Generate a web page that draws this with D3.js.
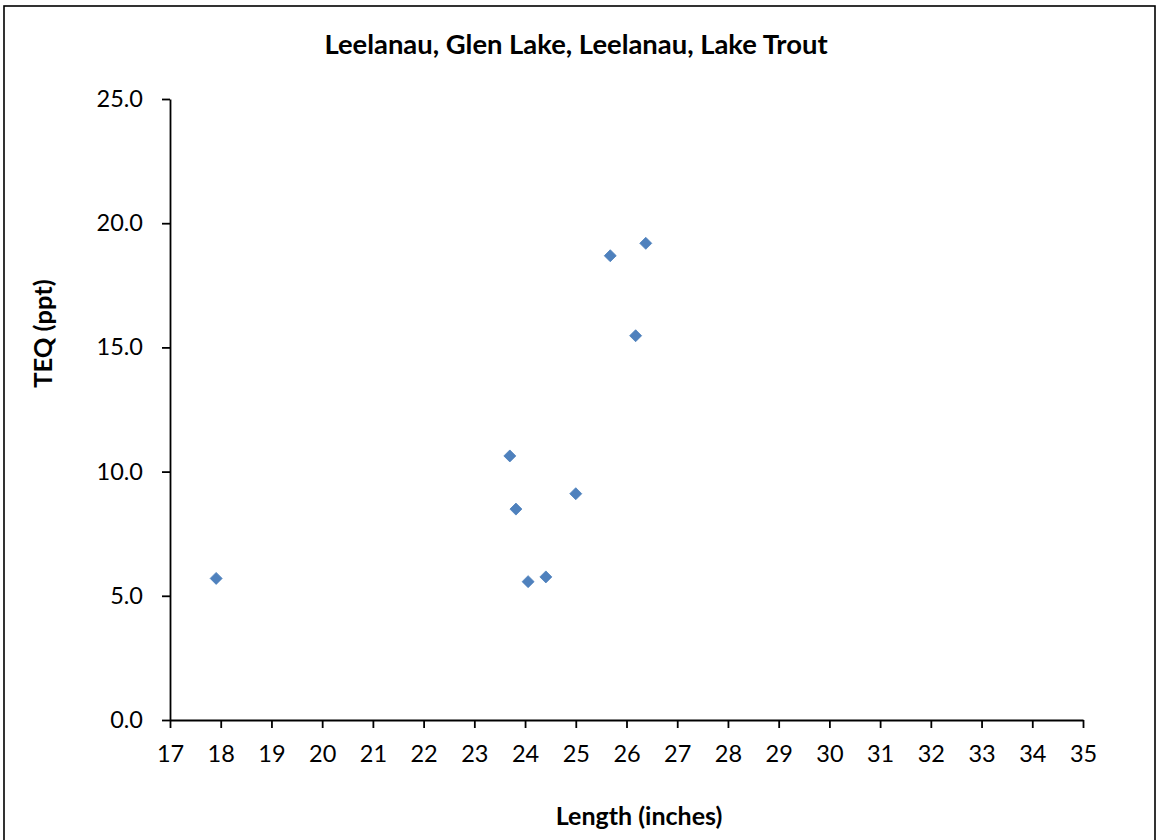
<!DOCTYPE html>
<html><head><meta charset="utf-8">
<script src="https://cdn.jsdelivr.net/npm/d3@7"></script>
<style>body{margin:0;background:#fff}svg{display:block}text{font-family:Lato,"Open Sans",sans-serif;fill:#000}</style>
</head><body><svg id="c" width="1156" height="840"></svg>
<script>
const title = "Leelanau, Glen Lake, Leelanau, Lake Trout";
const xLabel = "Length (inches)";
const yLabel = "TEQ (ppt)";
const lengths = [17.91, 23.70, 23.82, 24.06, 24.41, 25.00, 25.68, 26.18, 26.38];
const teq = [5.70, 10.63, 8.49, 5.57, 5.76, 9.11, 18.69, 15.47, 19.19];
const xTicks = d3.range(17, 36, 1);
const yTicks = [0, 5, 10, 15, 20, 25];

const svg = d3.select("#c");
svg.append("rect").attr("x",4).attr("y",6).attr("width",1151).attr("height",850)
  .attr("fill","none").attr("stroke","#000").attr("stroke-width",1.6);

const x = d3.scaleLinear().domain([17,35]).range([170,1083]);
const y = d3.scaleLinear().domain([0,25]).range([720,99]);

const gx = svg.append("g").attr("transform","translate(0,720)")
  .call(d3.axisBottom(x).tickValues(xTicks).tickSize(8).tickSizeOuter(0).tickPadding(17).tickFormat(d3.format("d")));
const gy = svg.append("g").attr("transform","translate(170,0)")
  .call(d3.axisLeft(y).tickValues(yTicks).tickSize(8).tickSizeOuter(0).tickPadding(19).tickFormat(d3.format(".1f")));
[gx,gy].forEach(g=>{
  g.select(".domain").attr("stroke","#000").attr("stroke-width",1.8);
  g.selectAll(".tick line").attr("stroke","#000").attr("stroke-width",1.8);
  g.selectAll(".tick text").attr("font-size",23.5).attr("font-family","Lato, 'Open Sans', sans-serif").attr("fill","#000");
});

svg.append("text").attr("x",576).attr("y",54).attr("text-anchor","middle")
  .attr("font-size",27.4).attr("font-weight","bold").text(title);
svg.append("text").attr("x",639).attr("y",825).attr("text-anchor","middle")
  .attr("font-size",25).attr("font-weight","bold").text(xLabel);
svg.append("text").attr("transform","translate(52,333.5) rotate(-90)").attr("text-anchor","middle")
  .attr("font-size",25.5).attr("font-weight","bold").text(yLabel);

const data = lengths.map((l,i)=>({l, t:teq[i]}));
const diamond = d3.symbol().type(d3.symbolSquare).size(72);
svg.append("g").selectAll("path").data(data).join("path")
  .attr("d", diamond)
  .attr("transform", d=>`translate(${x(d.l)},${y(d.t)}) rotate(45)`)
  .attr("fill","#4F81BD").attr("stroke","#4A7EBB").attr("stroke-width",0.75);
</script></body></html>
